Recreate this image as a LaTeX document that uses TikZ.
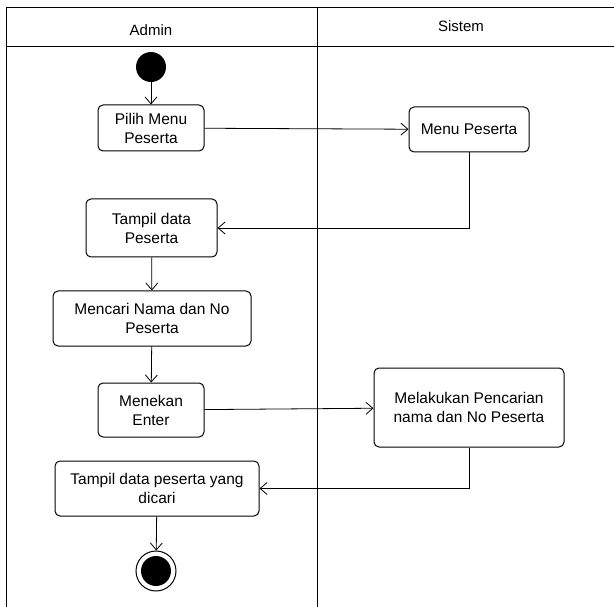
\documentclass[tikz,border=0pt]{standalone}
\usepackage{fontspec}
\setmainfont{Liberation Sans}
\usetikzlibrary{arrows.meta}
\begin{document}
\begin{tikzpicture}[x=1pt,y=-1pt,
  frame/.style={line width=1pt, draw=black},
  act/.style={draw=black, line width=1pt, rounded corners=5pt, align=center, inner sep=2pt,
    font=\fontsize{15.5}{19}\selectfont},
  flow/.style={line width=0.8pt, -{Straight Barb[length=7pt,width=12pt,line width=0.8pt]}},
  lbl/.style={font=\fontsize{15}{18}\selectfont}]
\useasboundingbox (0,0) rectangle (614,607);
% swimlane frame
\draw[frame] (6,607) -- (6,8) -- (614,8);
\draw[frame] (6,47) -- (614,47);
\draw[frame] (317,8) -- (317,607);
\node[lbl] (hadmin) at (151,30) {Admin};
\node[lbl] (hsistem) at (461,26) {Sistem};
% nodes
\node[circle, fill=black, minimum size=30pt, inner sep=0pt] (start) at (151,67) {};
\node[act, minimum width=106pt, minimum height=46pt] (pilih) at (151,128) {Pilih Menu\\Peserta};
\node[act, minimum width=120pt, minimum height=45pt] (menu) at (469,129.5) {Menu Peserta};
\node[act, minimum width=131pt, minimum height=58pt] (tampil) at (151.5,228) {Tampil data\\Peserta};
\node[act, minimum width=198pt, minimum height=55pt] (cari) at (152,318.5) {Mencari Nama dan No\\Peserta};
\node[act, minimum width=106pt, minimum height=54pt] (enter) at (151,410) {Menekan\\Enter};
\node[act, minimum width=190pt, minimum height=79pt] (proses) at (469,407.5) {Melakukan Pencarian\\nama dan No Peserta};
\node[act, minimum width=204pt, minimum height=55pt] (hasil) at (157,488.5) {Tampil data peserta yang\\dicari};
\node[circle, draw=black, line width=1pt, minimum size=40pt, inner sep=0pt] (final) at (156,571) {};
\node[circle, fill=black, minimum size=30pt, inner sep=0pt] (finalin) at (final.center) {};
% connectors
\draw[flow] (start) -- (pilih);
\draw[flow] (pilih) -- (menu);
\draw[flow] (menu.south) |- (tampil.east);
\draw[flow] (tampil) -- (cari);
\draw[flow] (cari) -- (enter);
\draw[flow] (enter) -- (proses);
\draw[flow] (proses.south) |- (hasil.east);
\draw[flow] (hasil) -- (final);
\end{tikzpicture}
\end{document}
